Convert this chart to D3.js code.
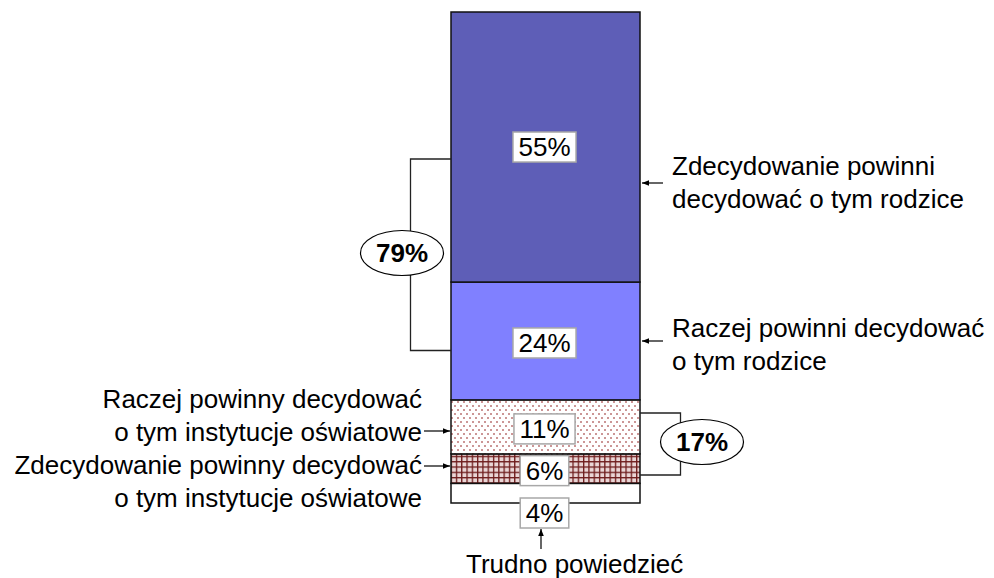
<!DOCTYPE html>
<html>
<head>
<meta charset="utf-8">
<script src="https://cdn.jsdelivr.net/npm/d3@7"></script>
<style>
body { margin: 0; background: #fff; }
text { font-family: "Liberation Sans", Arial, sans-serif; }
</style>
</head>
<body>
<script>
// dane - od dołu słupka do góry
var categories = ["Trudno powiedzieć",
                  "Zdecydowanie powinny decydować o tym instytucje oświatowe",
                  "Raczej powinny decydować o tym instytucje oświatowe",
                  "Raczej powinni decydować o tym rodzice",
                  "Zdecydowanie powinni decydować o tym rodzice"];
var values = [4, 6, 11, 24, 55];
var valueLabels = ["4%", "6%", "11%", "24%", "55%"];
var groupLabels = ["79%", "17%"];

var width = 994, height = 578;
var fs = 26;
var svg = d3.select("body").append("svg").attr("width", width).attr("height", height);

var defs = svg.append("defs");
// kropki
var dots = defs.append("pattern").attr("id", "dots").attr("patternUnits", "userSpaceOnUse")
    .attr("width", 6).attr("height", 8);
dots.append("rect").attr("width", 6).attr("height", 8).attr("fill", "#fff");
dots.append("rect").attr("x", 1).attr("y", 1).attr("width", 2).attr("height", 2).attr("fill", "#cc9696");
dots.append("rect").attr("x", 4).attr("y", 5).attr("width", 2).attr("height", 2).attr("fill", "#cc9696");
// kratka
var grid = defs.append("pattern").attr("id", "grid").attr("patternUnits", "userSpaceOnUse")
    .attr("width", 5.3).attr("height", 5.3);
grid.append("rect").attr("width", 5.3).attr("height", 5.3).attr("fill", "#ead6d6");
grid.append("rect").attr("x", 0).attr("y", 0).attr("width", 5.3).attr("height", 1.3).attr("fill", "#6e1c1c");
grid.append("rect").attr("x", 0).attr("y", 0).attr("width", 1.3).attr("height", 5.3).attr("fill", "#6e1c1c");

var fills = ["#ffffff", "url(#grid)", "url(#dots)", "#8080ff", "#5e5eb7"];

var y = d3.scaleLinear().domain([0, 100]).range([503, 12]);
var x = d3.scaleBand().domain(["all"]).range([451, 640]);

var stacked = [];
var acc = 0;
values.forEach(function(v, i) {
    stacked.push({cat: categories[i], v: v, y0: acc, y1: acc + v, label: valueLabels[i], fill: fills[i]});
    acc += v;
});

svg.selectAll("rect.seg").data(stacked).enter().append("rect")
    .attr("class", "seg")
    .attr("x", x("all")).attr("width", x.bandwidth())
    .attr("y", function(d) { return y(d.y1); })
    .attr("height", function(d) { return y(d.y0) - y(d.y1); })
    .attr("fill", function(d) { return d.fill; })
    .attr("stroke", "#111").attr("stroke-width", 1.5);

var mid = function(i) { return (y(stacked[i].y0) + y(stacked[i].y1)) / 2; };

// etykiety wartości
var cx = x("all") + x.bandwidth() / 2 - 1;
var labelY = function(d, i) {
    if (i == 0) return y(0) + 10;
    if (i == 4) return mid(i);
    return mid(i) + 2;
};
var lab = svg.selectAll("g.lab").data(stacked).enter().append("g").attr("class", "lab")
    .attr("transform", function(d, i) { return "translate(" + cx + "," + labelY(d, i) + ")"; });
lab.append("text").attr("text-anchor", "middle").attr("dy", "0.36em")
    .attr("font-size", fs).text(function(d) { return d.label; })
    .each(function() {
        var b = this.getBBox();
        d3.select(this.parentNode).insert("rect", "text")
            .attr("x", b.x - 5.5).attr("y", -15).attr("width", b.width + 11).attr("height", 30)
            .attr("fill", "#fff").attr("stroke", "#a8a8a8").attr("stroke-width", 1.5);
    });

// strzałki
defs.append("marker").attr("id", "arr").attr("viewBox", "0 0 10 10").attr("refX", 10).attr("refY", 5)
    .attr("markerWidth", 6).attr("markerHeight", 6).attr("orient", "auto-start-reverse")
    .append("path").attr("d", "M0,1 L10,5 L0,9 Z").attr("fill", "#000");

function arrow(x1, y1, x2, y2) {
    svg.append("line").attr("x1", x1).attr("y1", y1).attr("x2", x2).attr("y2", y2)
        .attr("stroke", "#000").attr("stroke-width", 1.2).attr("marker-end", "url(#arr)");
}

function label(lines, tx, ty, anchor) {
    var t = svg.append("text").attr("x", tx).attr("y", ty).attr("text-anchor", anchor).attr("font-size", fs);
    lines.forEach(function(l, i) {
        t.append("tspan").attr("x", tx).attr("dy", i == 0 ? 0 : 32.5).text(l);
    });
}

// prawa strona
label(["Zdecydowanie powinni", "decydować o tym rodzice"], 672, 175, "start");
arrow(663, 183, 642, 183);
label(["Raczej powinni decydować", "o tym rodzice"], 672, 337, "start");
arrow(663, 341, 642, 341);

// lewa strona
label(["Raczej powinny decydować", "o tym instytucje oświatowe"], 422, 408, "end");
arrow(424, 431, 450, 431);
label(["Zdecydowanie powinny decydować", "o tym instytucje oświatowe"], 422, 474, "end");
arrow(424, 466, 450, 466);

// dół
svg.append("text").attr("x", 466).attr("y", 573).attr("text-anchor", "start").attr("font-size", fs)
    .text(categories[0]);
arrow(541, 549, 541, 529);

// klamry
function bracket(xb, xe, y1, y2, ex, ey, txt) {
    svg.append("path").attr("d", "M" + xe + "," + y1 + "H" + xb + "V" + y2 + "H" + xe)
        .attr("fill", "none").attr("stroke", "#222").attr("stroke-width", 1.3);
    svg.append("ellipse").attr("cx", ex).attr("cy", ey).attr("rx", 41.5).attr("ry", 22.5)
        .attr("fill", "#fff").attr("stroke", "#000").attr("stroke-width", 1.2);
    svg.append("text").attr("x", ex).attr("y", ey).attr("dy", "0.36em").attr("text-anchor", "middle")
        .attr("font-size", fs).attr("font-weight", "bold").text(txt);
}
bracket(410.5, 451, 159, 350.5, 402, 253, groupLabels[0]);
bracket(680.5, 640, 413, 475, 702, 442, groupLabels[1]);
</script>
</body>
</html>
